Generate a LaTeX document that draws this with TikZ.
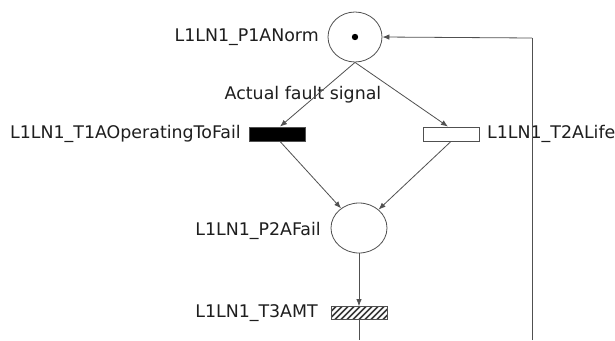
\documentclass[tikz,border=0pt]{standalone}
\usepackage{fontspec}
\setmainfont{DejaVu Sans}
\usetikzlibrary{arrows.meta,shapes.geometric}
\definecolor{edgegray}{HTML}{505050}
\definecolor{textgray}{HTML}{1E1E1E}
\tikzset{
  place/.style={draw=edgegray, line width=0.8pt, ellipse, fill=white, inner sep=0pt},
  trans/.style={draw=edgegray, line width=0.8pt, rectangle, inner sep=0pt, minimum width=56pt, minimum height=14pt},
  lbl/.style={text=textgray, font=\fontsize{17.4}{20}\selectfont, inner sep=0pt},
  arc/.style={draw=edgegray, line width=0.8pt, -{Latex[length=7pt,width=5.5pt]}},
  plain/.style={draw=edgegray, line width=0.8pt},
  hatched/.style={path picture={
    \foreach \i in {-80,-74,...,80}
      \draw[edgegray!70!black, line width=1.7pt]
        ([xshift=\i pt, yshift=-2pt]path picture bounding box.south) -- ++(24pt,24pt);
  }}
}
\begin{document}
\begin{tikzpicture}[x=1pt, y=-1pt]
  \useasboundingbox[fill=white] (0,0) rectangle (615,340);

  % places
  \node[place, minimum width=54pt, minimum height=50pt] (P1) at (355,37) {};
  \fill[black] (P1.center) circle (3.2pt);
  \node[place, minimum width=56pt, minimum height=50pt] (P2) at (359,228) {};

  % transitions
  \node[trans, fill=black] (T1) at (277,134) {};
  \node[trans, fill=white] (T2) at (451,134) {};
  \node[trans, fill=white, minimum height=13pt, hatched] (T3) at (359,313) {};

  % labels
  \node[lbl, anchor=east] (lP1) at (319,37) {L1LN1\_P1ANorm};
  \node[lbl] (lsig) at (303,95) {Actual fault signal};
  \node[lbl, anchor=east] (lT1) at (241,134) {L1LN1\_T1AOperatingToFail};
  \node[lbl, anchor=west] (lT2) at (487,134) {L1LN1\_T2ALife};
  \node[lbl, anchor=east] (lP2) at (321,231) {L1LN1\_P2AFail};
  \node[lbl, anchor=east] (lT3) at (318,313) {L1LN1\_T3AMT};

  % free ends at the lower edge
  \coordinate (bR) at (532,340);
  \coordinate (cR) at (532,38);
  \coordinate (bM) at (359,340);

  % arcs
  \draw[arc] (P1.south) -- ([xshift=3pt]T1.north);
  \draw[arc] (P1.south) -- ([xshift=-3pt]T2.north);
  \draw[arc] ([xshift=3pt]T1.south) -- (P2);
  \draw[arc] (T2.south) -- (P2);
  \draw[arc] (P2.south) -- (T3.north);
  \draw[plain] (T3.south) -- (bM);
  \draw[plain] (bR) -- (cR);
  \draw[arc] (cR) -- (P1.east);
\end{tikzpicture}
\end{document}
